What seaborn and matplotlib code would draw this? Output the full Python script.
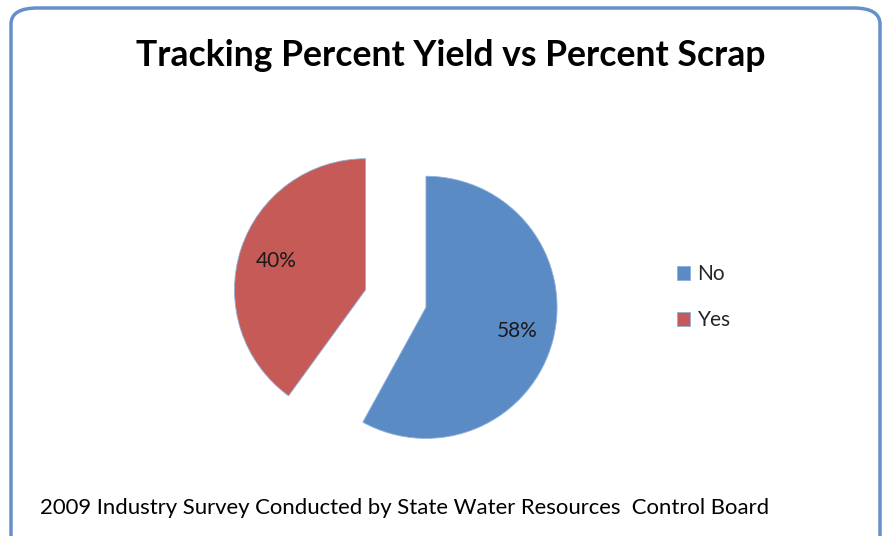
import matplotlib.pyplot as plt
import seaborn as sns
from matplotlib.patches import FancyBboxPatch

# survey answers (fractions of respondents, the missing 2% is left blank)
labels = ['Yes', 'No']
shares = [0.40, 0.58]
colors = ['#C55A57', '#5B8BC5']

title = 'Tracking Percent Yield vs Percent Scrap'
source = '2009 Industry Survey Conducted by State Water Resources  Control Board'

sns.set_style('white')
plt.rcParams['font.family'] = ['Lato', 'DejaVu Sans']

fig = plt.figure(figsize=(8.83, 5.36), dpi=100)

# rounded chart border
frame = FancyBboxPatch((11 / 883, -20 / 536), 869 / 883, 548 / 536,
                       boxstyle='round,pad=0,rounding_size=0.03',
                       transform=fig.transFigure, facecolor='white',
                       edgecolor='#6690CA', linewidth=2.5, zorder=-5)
fig.patches.append(frame)

ax = fig.add_axes([212 / 883, 53 / 536, 367 / 883, 367 / 536])
ax.set_zorder(2)
ax.patch.set_alpha(0)
wedges, texts, autotexts = ax.pie(
    shares, colors=colors, startangle=234, counterclock=False,
    normalize=False, explode=[0.24, 0.24], autopct='%1.0f%%',
    pctdistance=0.72, wedgeprops=dict(edgecolor='#8FB0DA', linewidth=0.6),
    textprops=dict(fontsize=15, color='#1a1a1a'))
ax.set_xlim(-1.4, 1.4)
ax.set_ylim(-1.4, 1.4)
ax.set_aspect('equal')
ax.axis('off')

fig.text(451 / 883, 1 - 55 / 536, title, ha='center', va='center',
         fontsize=25.6, fontweight='bold', color='black')
fig.text(40 / 883, 1 - 508 / 536, source, ha='left', va='center',
         fontsize=15.9, color='black')

leg = fig.legend([wedges[1], wedges[0]], [labels[1], labels[0]],
                 loc='center left', bbox_to_anchor=(658 / 883, 1 - 297 / 536),
                 frameon=False, fontsize=15, handlelength=0.65, handleheight=0.65,
                 handletextpad=0.35, labelspacing=1.25)

fig.savefig('out.png', dpi=100)
